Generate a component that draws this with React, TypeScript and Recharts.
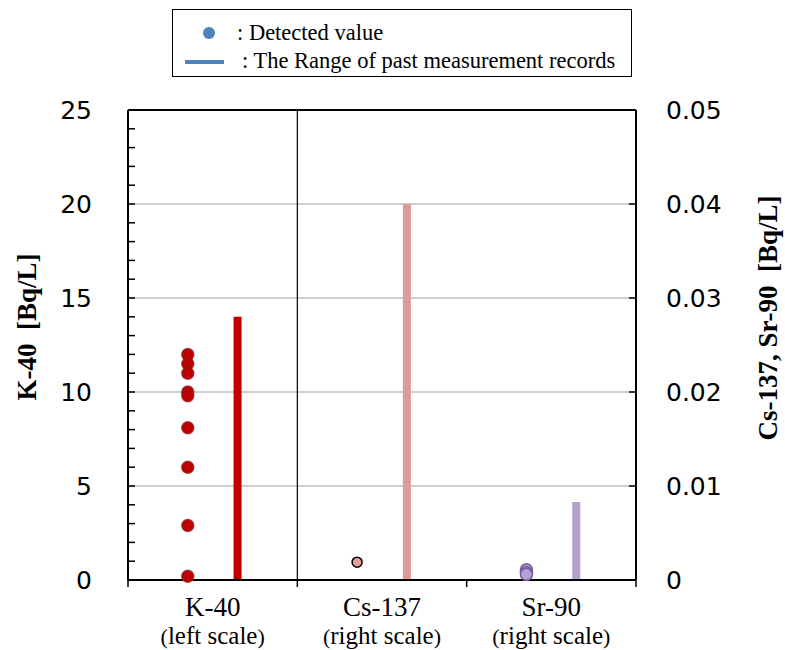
import React from "react";
import {
  ComposedChart,
  Scatter,
  Line,
  XAxis,
  YAxis,
  CartesianGrid,
  ReferenceLine,
  Label,
} from "recharts";

// nuclides on the x axis
const categories = ["K-40", "Cs-137", "Sr-90"];
const scaleNotes = ["left scale", "right scale", "right scale"];

// detected values [Bq/L]
const k40Detected = [12.0, 11.5, 11.0, 10.0, 9.8, 8.1, 6.0, 2.9, 0.2];
const cs137Detected = [0.0019];
const sr90Detected = [0.0011, 0.0008, 0.0006];

// range of past measurement records (min, max)
const pastMin = [0, 0, 0];
const pastMax = [14, 0.04, 0.0083];

// axis ticks
const leftTicks = [0, 5, 10, 15, 20, 25];
const leftMinorTicks = [
  0, 1, 2, 3, 4, 5, 6, 7, 8, 9, 10, 11, 12, 13, 14, 15, 16, 17, 18, 19, 20, 21,
  22, 23, 24, 25,
];
const rightTicks = [0, 0.01, 0.02, 0.03, 0.04, 0.05];
const xTicks = [0, 0.5, 1, 1.5, 2, 2.5, 3];

const DOT_SHIFT = -0.147;
const RANGE_SHIFT = 0.147;

const dotX = (i: number) => i + 0.5 + DOT_SHIFT;
const rangeX = (i: number) => i + 0.5 + RANGE_SHIFT;

const k40Points = k40Detected.map((v) => ({ x: dotX(0), y: v }));
const cs137Points = cs137Detected.map((v) => ({ x: dotX(1), y: v }));
const sr90Points = sr90Detected.map((v) => ({ x: dotX(2), y: v }));
const ranges = categories.map((_, i) => [
  { x: rangeX(i), y: pastMin[i] },
  { x: rangeX(i), y: pastMax[i] },
]);

const tickFont = "'DejaVu Sans', Verdana, sans-serif";
const serif = "'Liberation Serif', 'Times New Roman', serif";

function LeftTick(props: any) {
  const { x, y, payload } = props;
  const major = leftTicks.includes(payload.value);
  return (
    <g>
      <line x1={x} x2={x + 7} y1={y} y2={y} stroke="#000" strokeWidth={1.5} />
      {major && (
        <text
          x={x - 36}
          y={y}
          textAnchor="end"
          dominantBaseline="central"
          fontFamily={tickFont}
          fontSize={25}
          fill="#000"
        >
          {payload.value}
        </text>
      )}
    </g>
  );
}

function RightTick(props: any) {
  const { x, y, payload } = props;
  const v = payload.value;
  return (
    <g>
      <line x1={x - 7} x2={x} y1={y} y2={y} stroke="#000" strokeWidth={1.5} />
      <text
        x={x + 30}
        y={y}
        textAnchor="start"
        dominantBaseline="central"
        fontFamily={tickFont}
        fontSize={25}
        fill="#000"
      >
        {v === 0 ? "0" : v.toFixed(2)}
      </text>
    </g>
  );
}

function BottomTick(props: any) {
  const { x, y, payload } = props;
  const v = payload.value;
  if (Number.isInteger(v)) {
    return <line x1={x} x2={x} y1={y} y2={y + 7} stroke="#000" strokeWidth={1.5} />;
  }
  const i = Math.floor(v);
  return (
    <g fontFamily={serif} fill="#000">
      <text x={x} y={y + 36} textAnchor="middle" fontFamily={serif} fontSize={27}>
        {categories[i]}
      </text>
      <text x={x} y={y + 64} textAnchor="middle" fontFamily={serif} fontSize={25}>
        <tspan fontSize={22}>(</tspan>
        {scaleNotes[i]}
        <tspan fontSize={22}>)</tspan>
      </text>
    </g>
  );
}

function DetectedDot(fill: string, stroke: string, r: number) {
  return (props: any) => (
    <circle
      cx={props.cx}
      cy={props.cy}
      r={r}
      fill={fill}
      stroke={stroke}
      strokeWidth={1.5}
    />
  );
}

function AxisTitle(text: string, cx: number, cy: number) {
  return () => (
    <text
      x={cx}
      y={cy}
      transform={`rotate(-90, ${cx}, ${cy})`}
      textAnchor="middle"
      fontFamily={serif}
      fontWeight="bold"
      fontSize={27}
      fill="#000"
      style={{ whiteSpace: "pre" }}
    >
      {text}
    </text>
  );
}

function ChartLegend() {
  return (
    <div
      style={{
        position: "absolute",
        left: 172,
        top: 9,
        width: 460,
        height: 68,
        border: "1.5px solid #000",
        boxSizing: "border-box",
        background: "#fff",
      }}
    >
      <svg width={458} height={66} style={{ display: "block" }}>
        <circle cx={36} cy={23} r={6} fill="#4F81BD" />
        <text x={64} y={30} fontFamily={serif} fontSize={22.5} fill="#000">
          : Detected value
        </text>
        <line x1={12} x2={51} y1={52} y2={52} stroke="#4F81BD" strokeWidth={4} />
        <text x={69} y={58} fontFamily={serif} fontSize={22.5} fill="#000">
          : The Range of past measurement records
        </text>
      </svg>
    </div>
  );
}

export default function App() {
  return (
    <div
      style={{
        position: "absolute",
        left: 0,
        top: 0,
        width: 785,
        height: 650,
        background: "#fff",
      }}
    >
      <ComposedChart
        width={785}
        height={650}
        margin={{ top: 110, right: 0, bottom: 0, left: 0 }}
      >
        <CartesianGrid
          yAxisId="right"
          vertical={false}
          stroke="#BFBFBF"
          strokeWidth={1.5}
        />
        <XAxis
          type="number"
          dataKey="x"
          domain={[0, 3]}
          ticks={xTicks}
          interval={0}
          tickLine={false}
          tickSize={0}
          tickMargin={0}
          height={70}
          axisLine={{ stroke: "#000", strokeWidth: 2 }}
          tick={<BottomTick />}
        />
        <YAxis
          yAxisId="left"
          type="number"
          dataKey="y"
          domain={[0, 25]}
          ticks={leftMinorTicks}
          interval={0}
          width={128}
          tickLine={false}
          tickSize={0}
          tickMargin={0}
          axisLine={{ stroke: "#000", strokeWidth: 2 }}
          tick={<LeftTick />}
        >
          <Label content={AxisTitle("K-40  [Bq/L]", 36, 327)} />
        </YAxis>
        <YAxis
          yAxisId="right"
          orientation="right"
          type="number"
          dataKey="y"
          domain={[0, 0.05]}
          ticks={rightTicks}
          interval={0}
          width={149}
          tickLine={false}
          tickSize={0}
          tickMargin={0}
          axisLine={{ stroke: "#000", strokeWidth: 2 }}
          tick={<RightTick />}
        >
          <Label content={AxisTitle("Cs-137, Sr-90  [Bq/L]", 777, 318)} />
        </YAxis>
        <ReferenceLine yAxisId="left" y={25} stroke="#000" strokeWidth={2} />
        <ReferenceLine yAxisId="left" x={1} stroke="#000" strokeWidth={1.2} />

        <Line
          yAxisId="left"
          data={ranges[0]}
          dataKey="y"
          stroke="#C00000"
          strokeWidth={8}
          dot={false}
          activeDot={false}
          isAnimationActive={false}
        />
        <Line
          yAxisId="right"
          data={ranges[1]}
          dataKey="y"
          stroke="#DE9A9A"
          strokeWidth={8}
          dot={false}
          activeDot={false}
          isAnimationActive={false}
        />
        <Line
          yAxisId="right"
          data={ranges[2]}
          dataKey="y"
          stroke="#B3A2CC"
          strokeWidth={8}
          dot={false}
          activeDot={false}
          isAnimationActive={false}
        />

        <Scatter
          yAxisId="left"
          data={k40Points}
          shape={DetectedDot("#C00000", "rgba(140,30,30,0.75)", 6)}
          isAnimationActive={false}
        />
        <Scatter
          yAxisId="right"
          data={cs137Points}
          shape={DetectedDot("#E6A0A0", "#000", 5)}
          isAnimationActive={false}
        />
        <Scatter
          yAxisId="right"
          data={sr90Points}
          shape={DetectedDot("#B3A2D3", "#7A5AA0", 6)}
          isAnimationActive={false}
        />
      </ComposedChart>
      <ChartLegend />
    </div>
  );
}
